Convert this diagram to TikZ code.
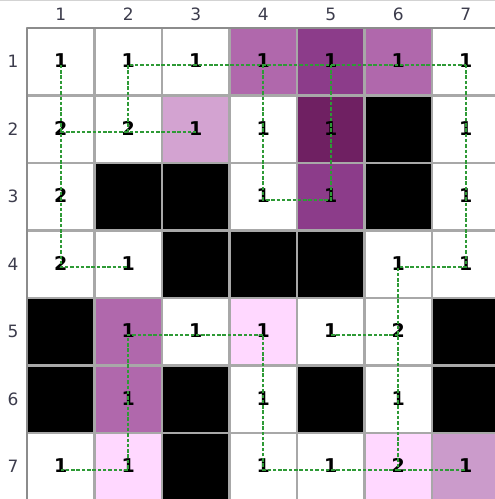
\documentclass[tikz,border=0pt]{standalone}
\usepackage{fontspec}
\setmainfont{DejaVu Sans}
\definecolor{cW}{HTML}{FFFFFF}
\definecolor{cK}{HTML}{000000}
\definecolor{cM}{HTML}{B068AC}
\definecolor{cD}{HTML}{8C3C8A}
\definecolor{cX}{HTML}{6F2062}
\definecolor{cL}{HTML}{D3A3D1}
\definecolor{cQ}{HTML}{CB9BCB}
\definecolor{cP}{HTML}{FFD8FF}
\definecolor{gridgray}{HTML}{A8A8A8}
\definecolor{framegray}{HTML}{8C8C8C}
\definecolor{headgray}{HTML}{3C3C4C}
\definecolor{linkgreen}{HTML}{2E9A36}
\begin{document}
\begin{tikzpicture}[x=1pt,y=-1pt,
  cellbox/.style={draw=gridgray, line width=2.2pt, minimum size=67.5pt, inner sep=0pt, outer sep=0pt},
  digit/.style={font=\fontsize{19}{19}\selectfont\bfseries, text=black, inner sep=0pt},
  head/.style={font=\fontsize{17}{17}\selectfont, text=headgray, inner sep=0pt},
  link/.style={draw=linkgreen, line width=2pt, dash pattern=on 3.5pt off 1.8pt}]
\useasboundingbox (0,0) rectangle (495,499);
\draw[gridgray!50, line width=1pt] (0,0.5) -- (495,0.5);
% cells
\foreach [count=\r] \row in {{W,W,W,M,D,M,W},{W,W,L,W,X,K,W},{W,K,K,W,D,K,W},{W,W,K,K,K,W,W},{K,M,W,P,W,W,K},{K,M,K,W,K,W,K},{W,P,K,W,W,P,Q}} {
  \foreach [count=\c] \col in \row {
    \node[cellbox, fill=c\col] (cell-\r-\c) at ({27+(\c-0.5)*67.5},{28+(\r-0.5)*67.5}) {};
    \coordinate (p-\r-\c) at ({27+(\c-0.5)*67.5},{28+(\r-0.5)*67.5+3});
  }
}
\draw[framegray, line width=2.4pt] (27,28) -- (499.5,28);
\draw[framegray, line width=2.4pt] (27,28) -- (27,499.5);
% headers
\foreach \i in {1,...,7} {
  \node[head] (col-\i) at ({27+(\i-0.5)*67.5},14) {\i};
  \node[head] (row-\i) at (13,{28+(\i-0.5)*67.5}) {\i};
}
% digits
\foreach \r/\c/\v in {1/1/1,1/2/1,1/3/1,1/4/1,1/5/1,1/6/1,1/7/1,
  2/1/2,2/2/2,2/3/1,2/4/1,2/5/1,2/7/1,
  3/1/2,3/4/1,3/5/1,3/7/1,
  4/1/2,4/2/1,4/6/1,4/7/1,
  5/2/1,5/3/1,5/4/1,5/5/1,5/6/2,
  6/2/1,6/4/1,6/6/1,
  7/1/1,7/2/1,7/4/1,7/5/1,7/6/2,7/7/1} {
  \node[digit] (d-\r-\c) at ({27+(\c-0.5)*67.5},{28+(\r-0.5)*67.5-1}) {\v};
}
% links
\draw[link] (p-1-1) -- (p-2-1) -- (p-3-1) -- (p-4-1) -- (p-4-2);
\draw[link] (p-2-1) -- (p-2-2) -- (p-2-3);
\draw[link] (p-2-2) -- (p-1-2) -- (p-1-3) -- (p-1-4) -- (p-1-5) -- (p-1-6) -- (p-1-7);
\draw[link] (p-1-4) -- (p-2-4) -- (p-3-4) -- (p-3-5) -- (p-2-5) -- (p-1-5);
\draw[link] (p-1-7) -- (p-2-7) -- (p-3-7) -- (p-4-7) -- (p-4-6) -- (p-5-6) -- (p-6-6) -- (p-7-6) -- (p-7-7);
\draw[link] (p-5-6) -- (p-5-5);
\draw[link] (p-7-6) -- (p-7-5) -- (p-7-4) -- (p-6-4) -- (p-5-4) -- (p-5-3) -- (p-5-2) -- (p-6-2) -- (p-7-2) -- (p-7-1);
\end{tikzpicture}
\end{document}
